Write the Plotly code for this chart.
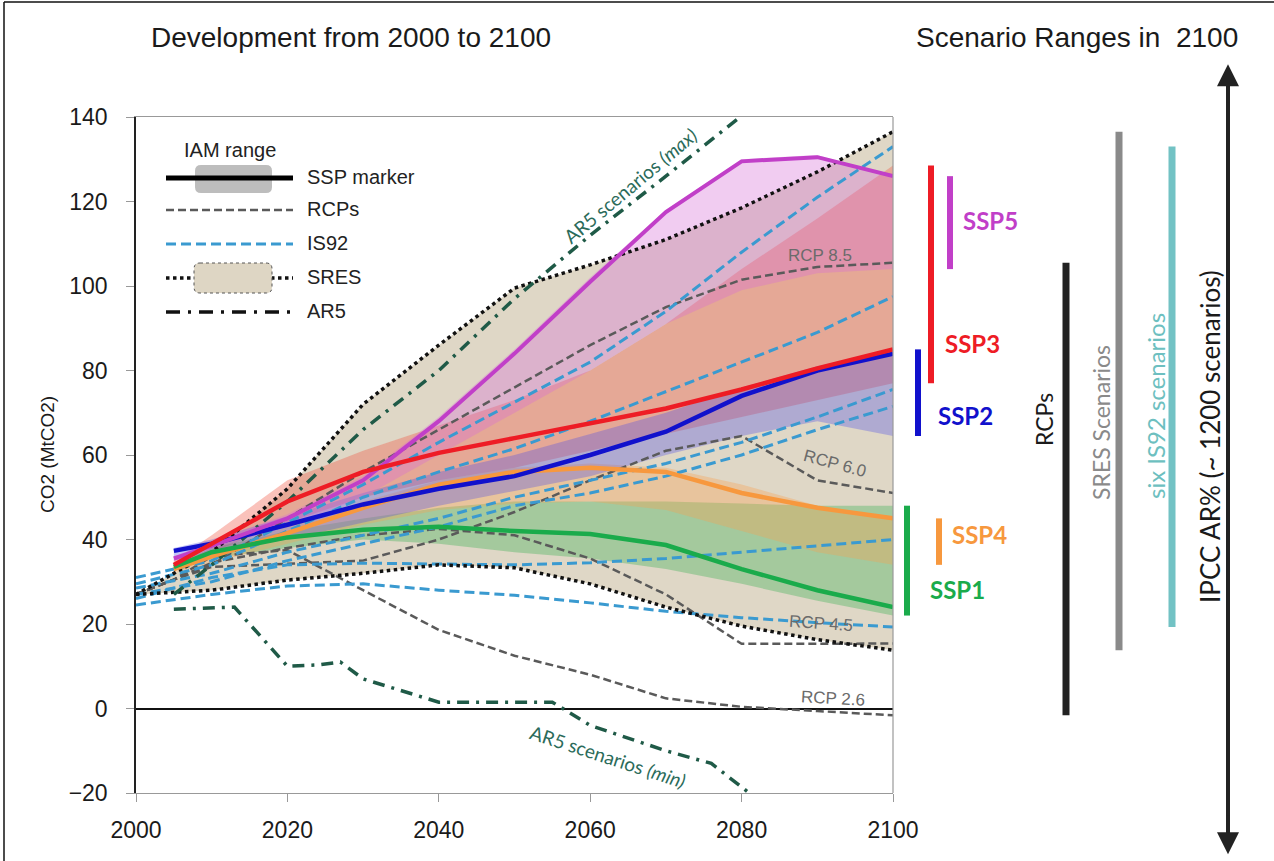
import plotly.graph_objects as go

# ---------------------------------------------------------------- data
YEARS_SSP = [2005, 2010, 2020, 2030, 2040, 2050, 2060, 2070, 2080, 2090, 2100]
YEARS_DEC = [2000, 2010, 2020, 2030, 2040, 2050, 2060, 2070, 2080, 2090, 2100]
YEARS_RCP = [2000, 2005, 2010, 2020, 2030, 2040, 2050, 2060, 2070, 2080, 2090, 2100]

# SSP marker scenarios (CO2 emissions)
ssp1_marker = [33.5, 37, 40.5, 42.3, 43, 42, 41.3, 38.7, 33, 28, 24]
ssp2_marker = [37.3, 39, 43.5, 48.3, 52, 55, 60, 65.5, 74, 80, 84]
ssp3_marker = [34, 39, 49, 56, 60.5, 64, 67.5, 71, 75.5, 80.5, 85]
ssp4_marker = [33, 36, 41.5, 47.5, 53, 56, 57, 56, 51, 47.5, 45]
ssp5_marker = [35.5, 38.5, 45, 54, 68, 84, 101, 117.5, 129.5, 130.5, 126]

# IAM ranges around each SSP
ssp1_low = [33, 35.5, 38, 40, 39, 37, 35.5, 33, 29.5, 25.5, 22]
ssp1_high = [34, 38, 42, 45, 47.5, 49, 49, 49, 48.5, 48, 48]
ssp2_low = [35, 37, 40, 44, 48, 51.5, 55, 60, 64.5, 68, 64.5]
ssp2_high = [38, 40, 45.5, 51, 56, 60, 65, 70, 76, 81, 85]
ssp3_low = [33, 37, 44, 50, 54, 57, 61, 65, 69, 73, 77]
ssp3_high = [35, 41, 54, 61, 67, 73, 80, 91, 104, 116, 128.5]
ssp4_low = [32, 34.5, 39, 43.5, 47, 48.5, 49, 47, 42, 37, 34]
ssp4_high = [34, 37.5, 43, 49, 54, 57, 58, 57, 53, 48, 45]
ssp5_low = [35, 38, 43, 50, 60, 70, 80, 91, 99, 103, 104]
ssp5_high = [36, 39.5, 46, 55, 69, 85, 102, 118, 130, 131, 126]

# RCP pathways
rcp85 = [27, 30.5, 34, 45, 56, 66, 76, 86, 95, 101.5, 104.5, 105.5]
rcp60 = [27, 30.5, 33.5, 34.3, 35, 40, 46.5, 54, 61, 64.5, 54, 51]
rcp45 = [27, 30.5, 34.5, 38, 41, 42.5, 41, 35.5, 27, 15.3, 15.3, 15.4]
rcp26 = [27, 30.5, 36, 37.5, 28, 18.6, 12.5, 8, 2.4, 0.4, -0.6, -1.6]

# six IS92 scenarios
is92_a = [31, 35, 44, 53, 63, 72.5, 82, 94, 108, 121, 133]
is92_b = [29.5, 34, 42, 50, 56, 61.5, 68, 75, 82, 89, 97.5]
is92_c = [28.5, 32, 37, 41, 45, 50, 54, 58, 63, 69, 75.5]
is92_d = [27, 30, 35, 39, 43, 48, 51, 55, 60, 66, 71.5]
is92_e = [26, 31, 34, 34.4, 34.2, 34, 34.5, 35.5, 37, 38.5, 40]
is92_f = [24.5, 27, 29, 29.5, 28, 26.8, 25, 23, 21.5, 20.3, 19.3]

# SRES envelope
sres_high = [27, 37, 52, 72, 86, 99.5, 105, 111, 118.5, 127, 136.5]
sres_low = [27, 28, 30.4, 32, 34, 33.3, 29.5, 24, 19.5, 16.3, 13.8]

# AR5 database envelope
ar5_max_years = [2005, 2010, 2020, 2030, 2040, 2050, 2060, 2070, 2080.5]
ar5_max = [27, 34, 49, 66, 80, 97, 112, 126, 141]
ar5_min_years = [2005, 2013, 2020, 2024, 2027, 2030, 2040, 2050, 2055, 2060, 2070, 2076, 2081]
ar5_min = [23.5, 24, 10, 10.3, 11, 7, 1.5, 1.5, 1.5, -4, -10, -13, -20]
ar5_range_2100 = [-34.5, 152.5]   # about 1200 scenarios, beyond the axis

Y_RANGE = [-20, 140]
X_TICKS = [2000, 2020, 2040, 2060, 2080, 2100]
Y_TICKS = [-20, 0, 20, 40, 60, 80, 100, 120, 140]

# ---------------------------------------------------------------- layout helpers
W, H = 1274, 861
PL, PR, PT, PB = 136, 893, 117, 793


def px(x):
    return (x - PL) / (PR - PL)


def py(y):
    return (PB - y) / (PB - PT)


def yval_to_paper(v):
    return (v - Y_RANGE[0]) / (Y_RANGE[1] - Y_RANGE[0])


SANS = "Liberation Sans, Arial, sans-serif"
HUMAN = "Lato, Open Sans, sans-serif"

C_SSP1, C_SSP2, C_SSP3, C_SSP4, C_SSP5 = "#1aab4b", "#1111cc", "#ee1c25", "#f7983e", "#c13fc8"
C_RCP, C_IS92, C_AR5 = "#5a5a5a", "#3a9ad0", "#1f5a47"

fig = go.Figure()


def band(years, low, high, color):
    fig.add_trace(go.Scatter(x=years, y=low, mode="lines", line=dict(width=0),
                             hoverinfo="skip", showlegend=False))
    fig.add_trace(go.Scatter(x=years, y=high, mode="lines", line=dict(width=0),
                             fill="tonexty", fillcolor=color,
                             hoverinfo="skip", showlegend=False))


def line(years, vals, color, width, dash="solid"):
    fig.add_trace(go.Scatter(x=years, y=vals, mode="lines",
                             line=dict(color=color, width=width, dash=dash),
                             hoverinfo="skip", showlegend=False))


# SRES envelope (beige)
band(YEARS_DEC, sres_low, sres_high, "rgb(223,215,198)")

# IAM ranges
band(YEARS_SSP, ssp1_low, ssp1_high, "rgba(40,170,70,0.32)")
band(YEARS_SSP, ssp4_low, ssp4_high, "rgba(250,160,80,0.35)")
band(YEARS_SSP, ssp3_low, ssp3_high, "rgba(240,80,60,0.35)")
band(YEARS_SSP, ssp2_low, ssp2_high, "rgba(80,80,230,0.33)")
band(YEARS_SSP, ssp5_low, ssp5_high, "rgba(215,110,215,0.35)")

# RCPs
for series in (rcp85, rcp60, rcp45, rcp26):
    line(YEARS_RCP, series, C_RCP, 2.5, "8px,4px")

# IS92
for series in (is92_a, is92_b, is92_c, is92_d, is92_e, is92_f):
    line(YEARS_DEC, series, C_IS92, 3, "10px,5px")

# SRES bounds
line(YEARS_DEC, sres_high, "#111111", 3.5, "3.5px,3.5px")
line(YEARS_DEC, sres_low, "#111111", 3.5, "3.5px,3.5px")

# AR5 envelope
line(ar5_max_years, ar5_max, C_AR5, 3.5, "12px,7px,3px,7px")
line(ar5_min_years, ar5_min, C_AR5, 3.5, "12px,7px,3px,7px")

# SSP markers
line(YEARS_SSP, ssp4_marker, C_SSP4, 4.5)
line(YEARS_SSP, ssp1_marker, C_SSP1, 4.5)
line(YEARS_SSP, ssp2_marker, C_SSP2, 4.5)
line(YEARS_SSP, ssp5_marker, C_SSP5, 4)
line(YEARS_SSP, ssp3_marker, C_SSP3, 4.5)

shapes = []
annotations = []


def note(**kw):
    kw.setdefault("showarrow", False)
    kw.setdefault("xanchor", "center")
    kw.setdefault("yanchor", "middle")
    annotations.append(kw)


# plot frame (right edge) and the outer frame along the top and left
shapes.append(dict(type="line", xref="paper", yref="paper", x0=1, x1=1, y0=0, y1=1,
                   line=dict(color="#999999", width=1.2)))
shapes.append(dict(type="line", xref="paper", yref="paper",
                   x0=px(4), x1=px(W + 2), y0=py(2), y1=py(2),
                   line=dict(color="#111111", width=1.5)))
shapes.append(dict(type="line", xref="paper", yref="paper",
                   x0=px(4), x1=px(4), y0=py(2), y1=py(H + 2),
                   line=dict(color="#111111", width=1.5)))

# ------------------------------------------------ legend (drawn by hand)


def rounded_path(x0, y0, x1, y1, r):
    pts = [("M", x0 + r, y0), ("L", x1 - r, y0), ("Q", x1, y0, x1, y0 + r),
           ("L", x1, y1 - r), ("Q", x1, y1, x1 - r, y1), ("L", x0 + r, y1),
           ("Q", x0, y1, x0, y1 - r), ("L", x0, y0 + r), ("Q", x0, y0, x0 + r, y0)]
    out = []
    for p in pts:
        cmd, coords = p[0], p[1:]
        seg = []
        for i in range(0, len(coords), 2):
            seg.append(f"{px(coords[i]):.5f},{py(coords[i + 1]):.5f}")
        out.append(cmd + " " + " ".join(seg))
    return " ".join(out) + " Z"


LX0, LX1, LTX = 166, 293, 305
rows = {"ssp": 178, "rcp": 210, "is92": 244, "sres": 278, "ar5": 312}

shapes.append(dict(type="path", xref="paper", yref="paper",
                   path=rounded_path(195, 165, 272, 193, 6),
                   fillcolor="#bdbdbd", line=dict(width=0)))
shapes.append(dict(type="line", xref="paper", yref="paper", x0=px(LX0), x1=px(LX1),
                   y0=py(rows["ssp"]), y1=py(rows["ssp"]), line=dict(color="#000", width=5)))
shapes.append(dict(type="line", xref="paper", yref="paper", x0=px(LX0), x1=px(LX1),
                   y0=py(rows["rcp"]), y1=py(rows["rcp"]),
                   line=dict(color=C_RCP, width=2.5, dash="8px,4px")))
shapes.append(dict(type="line", xref="paper", yref="paper", x0=px(LX0), x1=px(LX1),
                   y0=py(rows["is92"]), y1=py(rows["is92"]),
                   line=dict(color=C_IS92, width=3, dash="10px,5px")))
shapes.append(dict(type="line", xref="paper", yref="paper", x0=px(LX0), x1=px(LX1),
                   y0=py(rows["sres"]), y1=py(rows["sres"]),
                   line=dict(color="#111", width=3.5, dash="3.5px,3.5px")))
shapes.append(dict(type="path", xref="paper", yref="paper",
                   path=rounded_path(194, 263, 272, 293, 6),
                   fillcolor="#ded6c4", line=dict(color="#555", width=1, dash="dot")))
shapes.append(dict(type="line", xref="paper", yref="paper", x0=px(LX0), x1=px(LX1),
                   y0=py(rows["ar5"]), y1=py(rows["ar5"]),
                   line=dict(color="#111", width=3.5, dash="14px,8px,3px,8px")))

note(xref="paper", yref="paper", x=px(230), y=py(150), text="IAM range",
     font=dict(family=SANS, size=20, color="#222"))
for key, label in (("ssp", "SSP marker"), ("rcp", "RCPs"), ("is92", "IS92"),
                   ("sres", "SRES"), ("ar5", "AR5")):
    note(xref="paper", yref="paper", x=px(LTX), y=py(rows[key] - 1), xanchor="left",
         text=label, font=dict(family=SANS, size=20, color="#222"))

# ------------------------------------------------ in-plot labels
for txt, x, y, ang in (("RCP 8.5", 2090.4, 107.3, 0), ("RCP 6.0", 2092.3, 58.1, 15),
                       ("RCP 4.5", 2090.5, 20.2, 4), ("RCP 2.6", 2092.1, 2.4, 3)):
    note(x=x, y=y, text=txt, textangle=ang,
         font=dict(family=SANS, size=17, color="#6b6b6b"))

note(x=2065.3, y=123.8, text="AR5 scenarios <i>(max)</i>", textangle=-40,
     font=dict(family=HUMAN, size=19, color="#2b6b5a"))
note(x=2062.4, y=-11.3, text="AR5 scenarios <i>(min)</i>", textangle=18,
     font=dict(family=HUMAN, size=19, color="#2b6b5a"))

# ------------------------------------------------ ranges in 2100
ssp_ranges = [
    ("SSP1", ssp1_low, ssp1_high, C_SSP1, 907, 957, 28.1),
    ("SSP2", ssp2_low, ssp2_high, C_SSP2, 918, 965, 69.3),
    ("SSP3", ssp3_low, ssp3_high, C_SSP3, 931, 972, 86.5),
    ("SSP4", ssp4_low, ssp4_high, C_SSP4, 939, 979, 41.3),
    ("SSP5", ssp5_low, ssp5_high, C_SSP5, 950, 990, 115.6),
]
for name, lo, hi, col, bx, tx, ty in ssp_ranges:
    shapes.append(dict(type="line", xref="paper", yref="y", x0=px(bx), x1=px(bx),
                       y0=lo[-1], y1=hi[-1], line=dict(color=col, width=6)))
    note(xref="paper", yref="y", x=px(tx), y=ty, text=f"<b>{name}</b>",
         font=dict(family=HUMAN, size=24, color=col))

rcp_end = [s[-1] for s in (rcp85, rcp60, rcp45, rcp26)]
sres_end = [sres_low[-1], sres_high[-1]]
is92_end = [s[-1] for s in (is92_a, is92_b, is92_c, is92_d, is92_e, is92_f)]

for vals, col, bx in ((rcp_end, "#222222", 1066), (sres_end, "#8a8a8a", 1119),
                      (is92_end, "#72c2c4", 1172)):
    shapes.append(dict(type="line", xref="paper", yref="y", x0=px(bx), x1=px(bx),
                       y0=min(vals), y1=max(vals), line=dict(color=col, width=7)))

# AR5 database range, as a double-headed arrow
ax_x = px(1228)
a_lo, a_hi = yval_to_paper(ar5_range_2100[0]), yval_to_paper(ar5_range_2100[1])
shapes.append(dict(type="line", xref="paper", yref="paper", x0=ax_x, x1=ax_x,
                   y0=a_lo + 0.015, y1=a_hi - 0.015, line=dict(color="#222", width=4)))
note(xref="paper", yref="paper", x=ax_x, y=a_hi, ax=0, ay=40, text="",
     showarrow=True, arrowhead=2, arrowsize=1.1, arrowwidth=4, arrowcolor="#222")
note(xref="paper", yref="paper", x=ax_x, y=a_lo, ax=0, ay=-40, text="",
     showarrow=True, arrowhead=2, arrowsize=1.1, arrowwidth=4, arrowcolor="#222")

for txt, x, y, col, size in (("RCPs", 1044, 420, "#1a1a1a", 23),
                             ("SRES Scenarios", 1101, 423, "#8a8a8a", 23),
                             ("six IS92 scenarios", 1155, 406, "#6dbfc0", 24),
                             ("IPCC AR% (~ 1200 scenarios)", 1210, 437, "#1a1a1a", 26)):
    note(xref="paper", yref="paper", x=px(x), y=py(y), text=txt, textangle=-90,
         font=dict(family=HUMAN, size=size, color=col))

# titles and axis label
note(xref="paper", yref="paper", x=px(351), y=py(38),
     text="Development from 2000 to 2100", font=dict(family=SANS, size=28, color="#1a1a1a"))
note(xref="paper", yref="paper", x=px(1077), y=py(38),
     text="Scenario Ranges in  2100", font=dict(family=SANS, size=28, color="#1a1a1a"))
note(xref="paper", yref="paper", x=px(47), y=py(455),
     text="CO2 (MtCO2)", textangle=-90, font=dict(family=SANS, size=19, color="#1a1a1a"))

fig.update_layout(
    width=W, height=H,
    margin=dict(l=PL, r=W - PR, t=PT, b=H - PB),
    paper_bgcolor="white", plot_bgcolor="white",
    showlegend=False,
    shapes=shapes, annotations=annotations,
    xaxis=dict(range=[2000, 2100], tickvals=X_TICKS, showgrid=False, zeroline=False,
               showline=True, linecolor="#999999", linewidth=1.2, mirror=True,
               ticks="outside", ticklen=8, tickcolor="#999999",
               ticklabelstandoff=8,
               tickfont=dict(family=SANS, size=23, color="#1a1a1a")),
    yaxis=dict(range=Y_RANGE, tickvals=Y_TICKS, showgrid=False,
               zeroline=True, zerolinecolor="#111111", zerolinewidth=2,
               showline=True, linecolor="#222222", linewidth=1.5,
               ticks="outside", ticklen=8, tickcolor="#999999",
               ticklabelstandoff=14,
               tickfont=dict(family=SANS, size=23, color="#1a1a1a")),
)

fig.write_html("out.html")
